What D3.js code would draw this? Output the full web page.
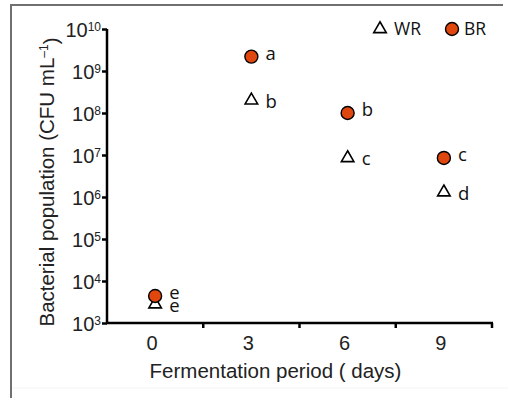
<!DOCTYPE html>
<html>
<head>
<meta charset="utf-8">
<script src="https://cdn.jsdelivr.net/npm/d3@7"></script>
<style>
  body { margin: 0; background: #fff; }
  svg { display: block; }
</style>
</head>
<body>
<div id="chart"></div>
<script>
// data
var days = [0, 3, 6, 9];
var wrValues = [2800, 2e8, 8.5e6, 1.3e6];
var brValues = [4400, 2.2e9, 1e8, 8.5e6];
var wrLetters = ["e", "b", "c", "d"];
var brLetters = ["e", "a", "b", "c"];
var yTicks = [3, 4, 5, 6, 7, 8, 9, 10];

var W = 508, H = 398;
var margin = {top: 29, right: 16, bottom: 75, left: 107},
    width = W - margin.left - margin.right,
    height = H - margin.top - margin.bottom;

var svg = d3.select("#chart").append("svg")
    .attr("width", W)
    .attr("height", H);

// figure frame (top and left edges only, as in the source)
svg.append("line").attr("x1", 11).attr("x2", 503).attr("y1", 5).attr("y2", 5)
    .attr("stroke", "#707070").attr("stroke-width", 2);
svg.append("line").attr("x1", 11).attr("x2", 11).attr("y1", 4).attr("y2", H)
    .attr("stroke", "#707070").attr("stroke-width", 2);
svg.append("line").attr("x1", 12).attr("x2", W).attr("y1", 388).attr("y2", 388)
    .attr("stroke", "#f3f3f3").attr("stroke-width", 1);

var g = svg.append("g")
    .attr("transform", "translate(" + margin.left + "," + margin.top + ")");

var x = d3.scaleBand().domain(days).range([0, width]).padding(0);
var y = d3.scaleLog().domain([1e3, 1e10]).range([height, 0]);

var axisFont = "'Liberation Sans', Arial, sans-serif";
var markFont = "'Open Sans', sans-serif";

// x axis: labels at band centres, ticks at band edges
var xAxis = g.append("g")
    .attr("transform", "translate(0," + height + ")")
    .call(d3.axisBottom(x).tickSize(0).tickPadding(13));
xAxis.select(".domain").remove();
xAxis.selectAll("text")
    .attr("dx", "-3")
    .style("font-family", axisFont)
    .style("font-size", "20px")
    .attr("fill", "#222");

g.selectAll(".xedge")
    .data(days)
    .enter().append("line")
    .attr("class", "xedge")
    .attr("x1", function(d) { return x(d) + x.bandwidth(); })
    .attr("x2", function(d) { return x(d) + x.bandwidth(); })
    .attr("y1", height)
    .attr("y2", height + 5)
    .attr("stroke", "#000")
    .attr("stroke-width", 2.5);

g.append("line")
    .attr("x1", -1).attr("x2", width + 1)
    .attr("y1", height).attr("y2", height)
    .attr("stroke", "#000").attr("stroke-width", 2.5);

// y axis
var yAxis = g.append("g")
    .call(d3.axisLeft(y).tickValues(yTicks.map(function(e) { return Math.pow(10, e); }))
        .tickSize(5).tickFormat(""));
yAxis.select(".domain").attr("stroke-width", 2.5).attr("d", "M0," + (height + 1) + "V0");
yAxis.selectAll(".tick line").attr("stroke-width", 2.5);

var yl = g.selectAll(".ylab")
    .data(yTicks)
    .enter().append("text")
    .attr("class", "ylab")
    .attr("x", -6)
    .attr("y", function(d) { return y(Math.pow(10, d)); })
    .attr("dy", "0.38em")
    .attr("text-anchor", "end")
    .style("font-family", axisFont)
    .style("font-size", "20px")
    .attr("fill", "#222");
yl.append("tspan").text("10");
yl.append("tspan")
    .attr("dy", "-0.45em")
    .style("font-size", "12px")
    .text(function(d) { return d; });

// axis titles
g.append("text")
    .attr("x", width / 2 - 24)
    .attr("y", height + 55)
    .attr("text-anchor", "middle")
    .style("font-family", axisFont)
    .style("font-size", "20.5px")
    .attr("fill", "#222")
    .text("Fermentation period ( days)");

var yt = g.append("text")
    .attr("transform", "translate(" + (-60) + "," + (height / 2 + 6) + ") rotate(-90)")
    .attr("text-anchor", "middle")
    .attr("dy", "0.35em")
    .style("font-family", axisFont)
    .style("font-size", "20.5px")
    .attr("fill", "#222");
yt.append("tspan").text("Bacterial population (CFU mL");
yt.append("tspan").attr("dy", "-0.5em").style("font-size", "12px").text("\u20131");
yt.append("tspan").attr("dy", "0.5em").text(")");

var cx = function(d, i) { return x(days[i]) + x.bandwidth() / 2; };
var tri = d3.symbol().type(d3.symbolTriangle).size(68);
var orange = "#e0470f";

// WR (open triangles)
g.selectAll(".wr")
    .data(wrValues)
    .enter().append("path")
    .attr("class", "wr")
    .attr("d", tri)
    .attr("transform", function(d, i) { return "translate(" + cx(d, i) + "," + y(d) + ")"; })
    .attr("fill", "#fff")
    .attr("stroke", "#000")
    .attr("stroke-width", 1.6);

// BR (filled circles)
g.selectAll(".br")
    .data(brValues)
    .enter().append("circle")
    .attr("class", "br")
    .attr("cx", cx)
    .attr("cy", function(d) { return y(d); })
    .attr("r", 6.5)
    .attr("fill", orange)
    .attr("stroke", "#000")
    .attr("stroke-width", 1.4);

// significance letters
function letters(values, labs, cls, dy) {
  g.selectAll("." + cls)
      .data(values)
      .enter().append("text")
      .attr("class", cls)
      .attr("x", function(d, i) { return cx(d, i) + 14; })
      .attr("y", function(d) { return y(d); })
      .attr("dy", dy)
      .style("font-family", markFont)
      .style("font-size", "18.5px")
      .attr("fill", "#111")
      .text(function(d, i) { return labs[i]; });
}
letters(wrValues, wrLetters, "wrl", "0.4em");
letters(brValues, brLetters, "brl", "0.17em");

// legend
var leg = svg.append("g").attr("transform", "translate(380,29)");
leg.append("path").attr("d", tri)
    .attr("fill", "#fff").attr("stroke", "#000").attr("stroke-width", 1.6);
leg.append("text").attr("x", 14).attr("dy", "0.36em")
    .style("font-family", markFont).style("font-size", "17.5px").attr("fill", "#111")
    .text("WR");
leg.append("circle").attr("cx", 72).attr("r", 6.5)
    .attr("fill", orange).attr("stroke", "#000").attr("stroke-width", 1.4);
leg.append("text").attr("x", 84).attr("dy", "0.36em")
    .style("font-family", markFont).style("font-size", "17.5px").attr("fill", "#111")
    .text("BR");
</script>
</body>
</html>
